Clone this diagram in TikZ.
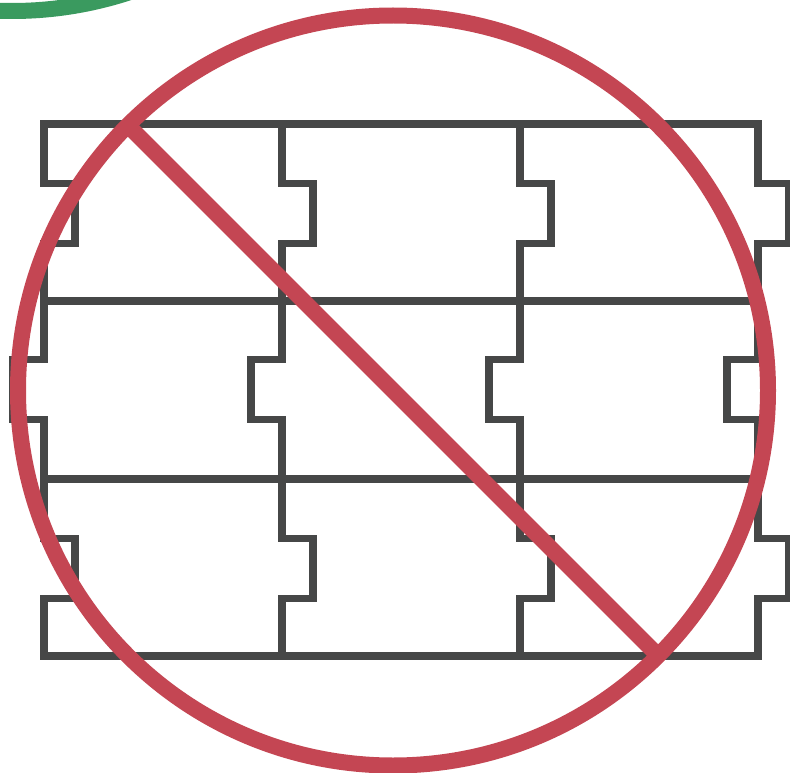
\documentclass[tikz,border=0pt]{standalone}
\definecolor{gridgray}{HTML}{464747}
\definecolor{banred}{HTML}{C44653}
\definecolor{arcgreen}{HTML}{3A9A5F}
\tikzset{
  gridline/.style={draw=gridgray,line width=7.8pt,miter limit=10},
  banline/.style={draw=banred,line width=16pt},
  arcline/.style={draw=arcgreen,line width=16pt}
}
\begin{document}
\begin{tikzpicture}[x=1pt,y=-1pt]
\useasboundingbox (0,0) rectangle (790,773);
\clip (0,0) rectangle (790,773);
% green arc of a neighbouring circle
\draw[arcline] (12,-364) circle[radius=375];
% horizontal rails
\foreach \yy in {124,301,479,656}
  \draw[gridline,line cap=rect] (44,\yy) -- (758,\yy);
% tabbed vertical profiles
\foreach \xx in {44,282,520,758}
  \draw[gridline,line cap=rect]
    (\xx,124) -- (\xx,183.5) -- (\xx+31,183.5) -- (\xx+31,243.5) -- (\xx,243.5)
    -- (\xx,359.5) -- (\xx-31,359.5) -- (\xx-31,419.5) -- (\xx,419.5)
    -- (\xx,538.5) -- (\xx+31,538.5) -- (\xx+31,598.5) -- (\xx,598.5) -- (\xx,656);
% prohibition sign
\draw[banline] (393,390.5) circle[radius=375];
\draw[banline] (393,390.5) ++(-265.2,-265.2) -- (658.2,655.7);
\end{tikzpicture}
\end{document}
